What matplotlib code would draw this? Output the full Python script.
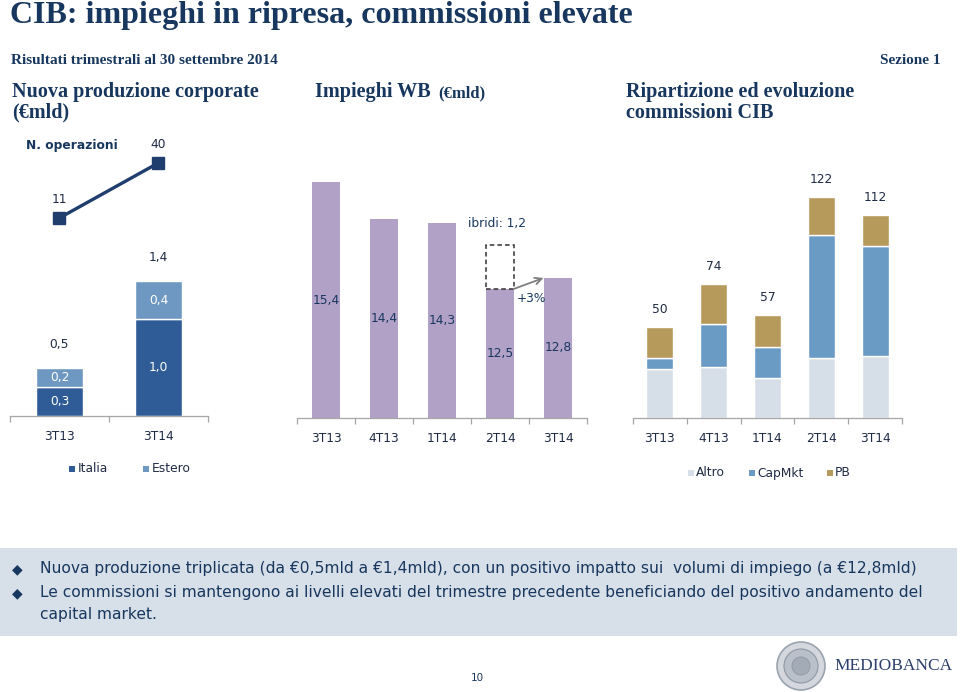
import matplotlib
matplotlib.use('Agg')
import matplotlib.pyplot as plt
from matplotlib.patches import Rectangle, Circle
import numpy as np

# ---------------- data ----------------
p1_cats = ['3T13', '3T14']
p1_italia = [0.3, 1.0]
p1_estero = [0.2, 0.4]
p1_ops = [11, 40]

p2_cats = ['3T13', '4T13', '1T14', '2T14', '3T14']
p2_vals = [15.4, 14.4, 14.3, 12.5, 12.8]
p2_ibridi = 1.2
p2_growth = '+3%'

p3_cats = ['3T13', '4T13', '1T14', '2T14', '3T14']
p3_altro = [27, 28, 22, 33, 34]
p3_capmkt = [6, 24, 17, 68, 61]
p3_pb = [17, 22, 18, 21, 17]
p3_totals = [50, 74, 57, 122, 112]

bullets = [
    "Nuova produzione triplicata (da \u20ac0,5mld a \u20ac1,4mld), con un positivo impatto sui  volumi di impiego (a \u20ac12,8mld)",
    "Le commissioni si mantengono ai livelli elevati del trimestre precedente beneficiando del positivo andamento del\ncapital market.",
]

# ---------------- style ----------------
NAVY = '#17375E'
TXT = '#1F2A44'
GRID = '#A6A6A6'
C_ITA = '#2F5C96'
C_EST = '#6E98C2'
C_PUR = '#B2A1C7'
C_ALT = '#D6DFE8'
C_CAP = '#6A9BC5'
C_PB = '#B59A5B'
SANS = 'DejaVu Sans'
SERIF = 'Liberation Serif'

W, H = 960, 692
fig = plt.figure(figsize=(W / 100, H / 100), dpi=100)


def fmt(v):
    return f"{v:.1f}".replace('.', ',')


def add_ax(x0, y0, x1, y1, **kw):
    return fig.add_axes([x0 / W, 1 - y1 / H, (x1 - x0) / W, (y1 - y0) / H], **kw)


# overlay in pixel coords
ov = fig.add_axes([0, 0, 1, 1])
ov.set_xlim(0, W)
ov.set_ylim(H, 0)
ov.axis('off')

ov.text(10, 15, "CIB: impieghi in ripresa, commissioni elevate", family=SERIF,
        weight='bold', fontsize=23, color=NAVY, va='center', ha='left')
ov.text(11, 60, "Risultati trimestrali al 30 settembre 2014", family=SERIF,
        weight='bold', fontsize=11, color=NAVY, va='center')
ov.text(941, 60, "Sezione 1", family=SERIF, weight='bold', fontsize=11,
        color=NAVY, va='center', ha='right')
ov.text(12, 92, "Nuova produzione corporate", family=SERIF, weight='bold',
        fontsize=14.5, color=NAVY, va='center')
ov.text(12, 112, "(\u20acmld)", family=SERIF, weight='bold', fontsize=14.5,
        color=NAVY, va='center')
ov.text(315, 92, "Impieghi WB", family=SERIF, weight='bold', fontsize=14.5,
        color=NAVY, va='center')
ov.text(438, 93, "(\u20acmld)", family=SERIF, weight='bold', fontsize=12,
        color=NAVY, va='center')
ov.text(626, 92, "Ripartizione ed evoluzione", family=SERIF, weight='bold',
        fontsize=14.5, color=NAVY, va='center')
ov.text(626, 113, "commissioni CIB", family=SERIF, weight='bold', fontsize=14.5,
        color=NAVY, va='center')

# bottom box
ov.add_patch(Rectangle((0, 548), 957, 88, facecolor='#D7DFE8', edgecolor='none'))
ov.text(17, 569, "\u25c6", fontsize=10, color=NAVY, va='center', ha='center', family=SANS)
ov.text(17, 593, "\u25c6", fontsize=10, color=NAVY, va='center', ha='center', family=SANS)
ov.text(40, 569, bullets[0], fontsize=11.2, color=NAVY, va='center', family=SANS)
ov.text(40, 593, bullets[1].split('\n')[0], fontsize=11.2, color=NAVY, va='center', family=SANS)
ov.text(40, 614, bullets[1].split('\n')[1], fontsize=11.2, color=NAVY, va='center', family=SANS)

# footer
ov.text(477, 678, "10", fontsize=7.5, color=NAVY, va='center', ha='center', family=SANS)
ov.add_patch(Circle((801, 666), 24, facecolor='#D4D8DE', edgecolor='#9AA3AE', lw=1.2))
ov.add_patch(Circle((801, 666), 17, facecolor='#B9C0C9', edgecolor='#8E97A3', lw=0.8))
ov.add_patch(Circle((801, 666), 9, facecolor='#A3ABB6', edgecolor='#8E97A3', lw=0.6))
ov.text(834, 666, "MEDIOBANCA", family=SERIF, fontsize=12.5, color='#2B3E6B', va='center')


def style_cat_axis(ax, n):
    for s in ['top', 'right', 'left']:
        ax.spines[s].set_visible(False)
    ax.spines['bottom'].set_color(GRID)
    ax.spines['bottom'].set_linewidth(0.9)
    ax.set_yticks([])
    ax.set_xticks(range(n))
    ax.set_xticks(np.arange(-0.5, n, 1.0), minor=True)
    ax.tick_params(axis='x', which='major', length=0, pad=10, labelsize=8.8,
                   labelcolor=TXT)
    ax.tick_params(axis='x', which='minor', length=4, color=GRID, width=0.9)
    ax.set_xlim(-0.5, n - 0.5)
    ax.patch.set_alpha(0)


# ---------------- panel 1 ----------------
ax1 = add_ax(10, 130, 208, 416)
x1 = np.arange(len(p1_cats))
ax1.bar(x1, p1_italia, width=0.465, color=C_ITA, edgecolor='white', linewidth=1)
ax1.bar(x1, p1_estero, bottom=p1_italia, width=0.465, color=C_EST,
        edgecolor='white', linewidth=1)
ax1.set_ylim(0, 2.96)
style_cat_axis(ax1, len(p1_cats))
ax1.set_xticklabels(p1_cats)
for i in range(len(p1_cats)):
    ax1.text(i, p1_italia[i] / 2, fmt(p1_italia[i]), ha='center', va='center',
             color='white', fontsize=8.8, family=SANS)
    ax1.text(i, p1_italia[i] + p1_estero[i] / 2, fmt(p1_estero[i]), ha='center',
             va='center', color='white', fontsize=8.8, family=SANS)
    tot = p1_italia[i] + p1_estero[i]
    ax1.annotate(fmt(tot), (i, tot), xytext=(0, 12), textcoords='offset points',
                 ha='center', va='bottom', color=TXT, fontsize=8.8)

ax1b = ax1.twinx()
ax1b.set_ylim(-93.3, 57.3)
ax1b.axis('off')
ax1b.plot(x1, p1_ops, color='#1F3E6E', lw=2.4, marker='s', markersize=8.5,
          markerfacecolor='#1F3E6E', solid_capstyle='butt')
for i, v in enumerate(p1_ops):
    ax1b.annotate(str(v), (i, v), xytext=(0, 13), textcoords='offset points',
                  ha='center', va='center', color=TXT, fontsize=8.8)
ov.text(72, 145, "N. operazioni", fontsize=8.8, weight='bold', color=NAVY,
        ha='center', va='center', family=SANS)

# legend panel 1
ov.add_patch(Rectangle((69, 466), 6, 6, facecolor=C_ITA, edgecolor='none'))
ov.text(78, 469, "Italia", fontsize=8.8, color=TXT, va='center', family=SANS)
ov.add_patch(Rectangle((143, 466), 6, 6, facecolor=C_EST, edgecolor='none'))
ov.text(152, 469, "Estero", fontsize=8.8, color=TXT, va='center', family=SANS)

# ---------------- panel 2 ----------------
ax2 = add_ax(297, 160, 587, 418)
x2 = np.arange(len(p2_cats))
ax2.bar(x2, np.array(p2_vals) - 9, bottom=9, width=0.47, color=C_PUR)
ax2.set_ylim(9, 16)
style_cat_axis(ax2, len(p2_cats))
ax2.set_xticklabels(p2_cats)
for i, v in enumerate(p2_vals):
    ax2.text(i, (9 + v) / 2, fmt(v), ha='center', va='center', color=NAVY,
             fontsize=8.8, family=SANS)
# ibridi dashed box on 2T14
ax2.add_patch(Rectangle((3 - 0.235, p2_vals[3]), 0.47, p2_ibridi, facecolor='none',
                        edgecolor='#333333', linestyle=(0, (3, 2)), lw=1.1))
ax2.annotate("", xy=(4 - 0.25, p2_vals[4]), xytext=(3 + 0.235, p2_vals[3]),
             arrowprops=dict(arrowstyle='->', color='#7F7F7F', lw=1.3,
                             shrinkA=0, shrinkB=0, mutation_scale=12))
ax2.text(3.55, 12.25, p2_growth, ha='center', va='center', color=NAVY,
         fontsize=8.8, family=SANS)
ax2.text(2.95, 14.28, "ibridi: " + fmt(p2_ibridi), ha='center', va='center',
         color=NAVY, fontsize=8.8, family=SANS)

# ---------------- panel 3 ----------------
ax3 = add_ax(633, 160, 902, 418)
x3 = np.arange(len(p3_cats))
a = np.array(p3_altro)
c = np.array(p3_capmkt)
p = np.array(p3_pb)
ax3.bar(x3, a, width=0.5, color=C_ALT, edgecolor='white', linewidth=1)
ax3.bar(x3, c, bottom=a, width=0.5, color=C_CAP, edgecolor='white', linewidth=1)
ax3.bar(x3, p, bottom=a + c, width=0.5, color=C_PB, edgecolor='white', linewidth=1)
ax3.set_ylim(0, 142.5)
style_cat_axis(ax3, len(p3_cats))
ax3.set_xticklabels(p3_cats)
for i, t in enumerate(p3_totals):
    ax3.annotate(str(t), (i, t), xytext=(0, 8), textcoords='offset points',
                 ha='center', va='bottom', color=TXT, fontsize=8.8)

# legend panel 3
for xs, col, lab in [(688, C_ALT, "Altro"), (749, C_CAP, "CapMkt"), (827, C_PB, "PB")]:
    ov.add_patch(Rectangle((xs, 470), 6, 6, facecolor=col, edgecolor='none'))
    ov.text(xs + 8, 473, lab, fontsize=8.8, color=TXT, va='center', family=SANS)

fig.savefig('out.png', dpi=100)
